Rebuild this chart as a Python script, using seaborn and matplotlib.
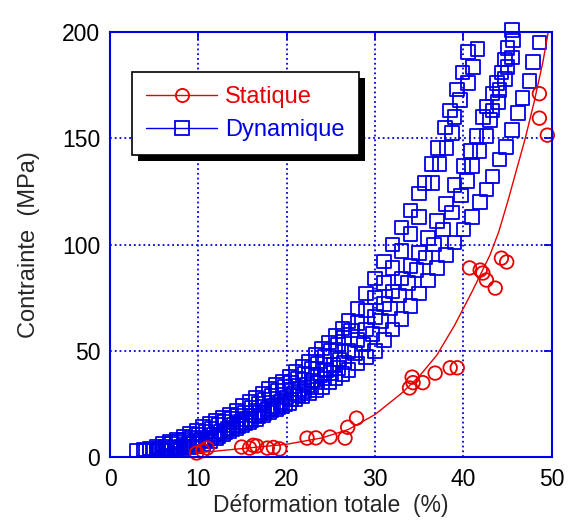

# import from python libraries and modules
import numpy as np
import pandas as pd

# import visual tools
import matplotlib
matplotlib.use('Agg')
import matplotlib.pyplot as plt
from matplotlib.lines import Line2D
from matplotlib.patches import Rectangle
import seaborn as sns


#################### Data ####################

# Dynamique : several test curves (x = %, y = MPa)
dyn_a_x = [3, 3.8, 4.5, 5.3, 6, 6.8, 7.5, 8.3, 9, 9.8, 10.5, 11.3, 12, 12.8, 13.5, 14.3,
           15, 15.8, 16.5, 17.3, 18, 18.8, 19.5, 20.3, 21, 21.8, 22.5, 23.3, 24, 24.8,
           25.5, 26.3, 27, 28, 29, 30, 31, 32, 33, 34, 35, 35.6, 36.4, 37.1, 37.9, 38.5,
           39.3, 39.9, 40.5]
dyn_a_y = [3, 3.5, 4, 5, 6, 7, 8, 9.5, 11, 12.5, 14, 15.5, 17, 18.5, 20, 22,
           24, 26, 28, 30, 32, 34, 35.5, 38, 40, 42.5, 45, 48, 51, 54,
           57, 60.5, 64, 70, 77, 84, 92, 100, 108, 116, 124, 129, 138, 145.5, 155, 163,
           173, 181, 190.6]

dyn_b_x = [4, 4.8, 5.5, 6.3, 7, 7.8, 8.5, 9.3, 10, 10.8, 11.5, 12.3, 13, 13.8, 14.5, 15.3,
           16, 16.8, 17.5, 18.3, 19, 19.8, 20.5, 21.3, 22, 22.8, 23.5, 24.3, 25, 25.8,
           26.5, 27.3, 28, 29, 30, 31, 32, 33, 34, 35, 36.5, 37.3, 38.1, 38.7, 39, 39.6,
           40.5, 41.1, 41.6]
dyn_b_y = [3, 3.5, 4, 5, 6, 7, 8, 9, 10.5, 12, 13.5, 15, 16.5, 18, 19.5, 21,
           23, 25, 27, 29, 31, 33, 35, 37, 39, 41.5, 44, 47, 50, 53,
           56, 59.5, 63, 69, 75, 82, 89, 97, 105, 113, 129, 138, 145.5, 152.5, 160, 168,
           176, 183.5, 192]

dyn_c_x = [5, 5.8, 6.5, 7.3, 8, 8.8, 9.5, 10.3, 11, 11.8, 12.5, 13.3, 14, 14.8, 15.5, 16.3,
           17, 17.8, 18.5, 19.3, 20, 20.8, 21.5, 22.3, 23, 23.8, 24.5, 25.3, 26, 27,
           28, 29, 30, 31, 32, 33, 34, 35, 36, 37, 38, 39, 40, 40.8, 41.5, 42.2,
           42.6, 43.3, 43.8, 44.3, 44.7, 45, 45.5]
dyn_c_y = [3, 3.5, 4, 4.5, 5, 6, 7, 8, 9, 10.5, 12, 13.5, 15, 16.5, 18, 19.5,
           21, 22.5, 24, 26, 28, 30, 32, 34, 36, 38.5, 41, 43.5, 46, 50,
           55, 60, 66, 72, 78, 84, 90, 96, 103, 111, 119, 128, 137, 144, 151, 160,
           165, 171, 176, 181, 187, 192.5, 201]

dyn_d_x = [5.5, 6.3, 7, 7.8, 8.5, 9.3, 10, 10.8, 11.5, 12.3, 13, 13.8, 14.5, 15.3, 16, 16.8,
           17.5, 18.3, 19, 19.8, 20.5, 21.3, 22, 22.8, 23.5, 24.3, 25, 25.8, 26.5, 27.7,
           28.7, 29.7, 30.7, 31.7, 32.7, 33.7, 34.7, 35.7, 36.7, 37.7, 38.7, 39.7, 40.4,
           41, 41.8, 42.6, 43, 43.3, 43.9, 44.1, 44.7, 45, 45.5, 45.6]
dyn_d_y = [3, 3.5, 4, 4.5, 5, 6, 7, 8, 9, 10, 11.5, 13, 14.5, 16, 17.5, 19,
           20.5, 22, 23.5, 25, 27, 29, 31, 33, 35, 37, 39.5, 42, 44.5, 49,
           53, 58, 64, 70, 76, 82, 88, 94, 100, 107, 115, 123, 130,
           137, 144, 151, 158.6, 163, 167, 172.7, 178, 183.5, 188, 196]

dyn_e_x = [6, 6.8, 7.5, 8.3, 9, 9.8, 10.5, 11.3, 12, 12.8, 13.5, 14.3, 15, 15.8, 16.5, 17.3,
           18, 18.8, 19.5, 20.3, 21, 21.8, 22.5, 23.3, 24, 24.8, 25.5, 26.3, 27, 28,
           29, 30, 31, 32, 33, 34, 35, 36, 37, 38, 39, 40, 41, 41.9, 42.6, 43.3,
           44.1, 44.8, 45.5, 46.2, 46.7, 47.5, 47.9, 48.6]
dyn_e_y = [3, 3, 3.5, 4, 4.5, 5, 6, 7.5, 9, 10.5, 12, 13.5, 15, 16.5, 18, 19.5,
           21, 22.5, 24, 25.5, 27, 28.5, 30, 31.5, 33, 35, 37, 39, 41, 44,
           47, 50, 55, 60, 65, 71, 77, 83, 89, 95, 101, 107, 113, 120, 126, 132,
           140, 146, 154, 162, 169, 177, 186, 195]

# Statique : measured points
stat_x = [9.8, 11.0, 10.5, 14.9, 15.8, 16.6, 17.8, 19.2, 16.2, 18.5, 22.3, 23.3, 24.9,
          26.6, 26.9, 27.9, 34.2, 34.3, 33.9, 35.4, 36.8, 38.5, 39.3, 40.7, 41.9, 42.2,
          42.6, 43.6, 44.3, 44.9, 48.6, 48.6, 49.5]
stat_y = [1.9, 4.2, 3.0, 4.7, 4.2, 5.2, 4.2, 3.8, 5.5, 4.5, 8.9, 9.0, 9.4,
          8.9, 14.0, 18.3, 37.6, 35.0, 32.5, 35.0, 39.5, 42.0, 42.0, 89.0, 88.0, 86.6,
          83.3, 79.5, 93.6, 91.8, 171.0, 159.5, 151.5]

# Statique : fitted curve
fit_x = [10, 15, 20, 24, 27, 30, 33, 35, 37, 39, 41, 43, 44, 45, 46, 47, 48, 49, 49.6]
fit_y = [2, 4, 6, 9, 13, 20, 30, 38, 48, 62, 78, 95, 106, 120, 135, 150, 167, 186, 200]

x_ticks = [0, 10, 20, 30, 40, 50]
y_ticks = [0, 50, 100, 150, 200]

BLUE = '#0000e6'
RED = '#e60000'


#################### Plot ####################

sns.set_style('white')
plt.rcParams['font.family'] = ['Liberation Sans', 'DejaVu Sans']

# build a long DataFrame for the dynamic curves
dyn = pd.concat([
    pd.DataFrame({'x': xs, 'y': ys, 'essai': name})
    for name, xs, ys in [('a', dyn_a_x, dyn_a_y), ('b', dyn_b_x, dyn_b_y),
                         ('c', dyn_c_x, dyn_c_y), ('d', dyn_d_x, dyn_d_y),
                         ('e', dyn_e_x, dyn_e_y)]
], ignore_index=True)
stat = pd.DataFrame({'x': stat_x, 'y': stat_y})
fit = pd.DataFrame({'x': fit_x, 'y': fit_y})

fig = plt.figure(figsize=(5.7, 5.22), dpi=100)
ax = fig.add_axes([0.193, 0.1245, 0.775, 0.814])

# dotted grid
ax.set_axisbelow(True)
ax.grid(True, color=BLUE, linestyle=':', linewidth=1.3)

sns.scatterplot(data=dyn, x='x', y='y', marker='s', s=95, facecolors='none',
                edgecolor=BLUE, linewidth=1.3, clip_on=False, ax=ax, legend=False)
sns.lineplot(data=fit, x='x', y='y', color=RED, linewidth=1.0, sort=False,
             estimator=None, ax=ax, legend=False)
sns.scatterplot(data=stat, x='x', y='y', marker='o', s=95, facecolors='none',
                edgecolor=RED, linewidth=1.3, clip_on=False, ax=ax, legend=False)

ax.set_xlim(0, 50)
ax.set_ylim(0, 200)
ax.set_xticks(x_ticks)
ax.set_yticks(y_ticks)
ax.tick_params(direction='in', length=6, width=1.3, color=BLUE, labelsize=16.5,
               labelcolor='black', top=True, right=True)
ax.tick_params(axis='x', pad=8)
ax.tick_params(axis='y', pad=7)
for spine in ax.spines.values():
    spine.set_color(BLUE)
    spine.set_linewidth(1.5)

ax.set_xlabel('Déformation totale  (%)', fontsize=16.5, labelpad=2)
ax.set_ylabel('Contrainte  (MPa)', fontsize=17, labelpad=16)

# legend with solid black drop shadow
handles = [
    Line2D([0], [0], color=RED, lw=1.0, marker='o', ms=9.5, mfc='none', mew=1.3),
    Line2D([0], [0], color=BLUE, lw=1.0, marker='s', ms=9.5, mfc='none', mew=1.3),
]
leg = ax.legend(handles, ['Statique', 'Dynamique'], loc='upper left',
                bbox_to_anchor=(0.05, 0.906), fontsize=17, frameon=True,
                fancybox=False, edgecolor='black', framealpha=1,
                handlelength=3.0, handletextpad=0.35, borderpad=0.6,
                labelspacing=0.45, borderaxespad=0, labelcolor=[RED, BLUE])
leg.get_frame().set_linewidth(1.2)

fig.canvas.draw()
bb = leg.get_frame().get_window_extent()
inv = ax.transAxes.inverted()
(x0, y0), (x1, y1) = inv.transform([(bb.x0 + 6, bb.y0 - 6), (bb.x1 + 6, bb.y1 - 6)])
ax.add_patch(Rectangle((x0, y0), x1 - x0, y1 - y0, transform=ax.transAxes,
                       facecolor='black', edgecolor='none',
                       zorder=leg.get_zorder() - 0.1, clip_on=False))

fig.savefig('out.png', dpi=100)
